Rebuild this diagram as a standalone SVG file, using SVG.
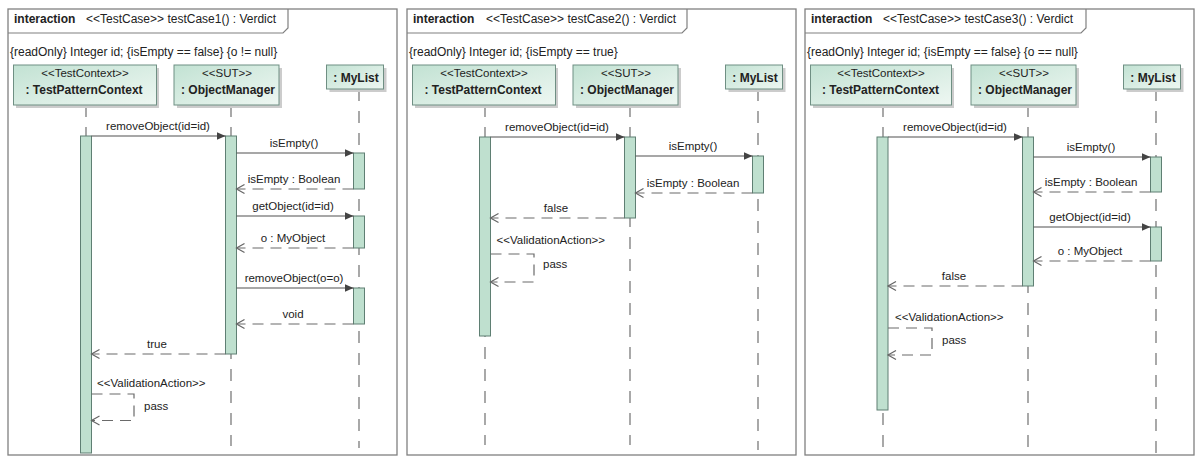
<svg xmlns="http://www.w3.org/2000/svg" width="1195" height="457" viewBox="0 0 1195 457">
<style>
.frame{fill:#ffffff;stroke:#808080;stroke-width:1.3}
.tab{fill:none;stroke:#808080;stroke-width:1.2}
.t{font-family:"Liberation Sans",Arial,sans-serif;font-size:11.5px;fill:#222222}
.h{font-size:12px}
.b{font-weight:bold}
.m{text-anchor:middle}
.head{fill:url(#hg);stroke:#6f8f83;stroke-width:1}
.shadow{fill:#cccccc}
.life{stroke:#707070;stroke-width:1.2;stroke-dasharray:12 10;fill:none}
.act{fill:#bfe0cf;stroke:#5f7f73;stroke-width:1}
.call{stroke:#505050;stroke-width:1.2;fill:none;marker-end:url(#filled)}
.ret{stroke:#6a6a6a;stroke-width:1.2;stroke-dasharray:11 7;fill:none;marker-end:url(#open)}
</style>
<defs>
<linearGradient id="hg" x1="0" y1="0" x2="1" y2="1">
<stop offset="0" stop-color="#c2e2d3"/>
<stop offset="1" stop-color="#eef7f2"/>
</linearGradient>
<marker id="filled" markerUnits="userSpaceOnUse" viewBox="0 0 9 8" refX="9" refY="4" markerWidth="9" markerHeight="8" orient="auto">
<path d="M0,0 L9,4 L0,8 z" fill="#444444"/>
</marker>
<marker id="open" markerUnits="userSpaceOnUse" viewBox="-1 -1 11 11" refX="8" refY="4.5" markerWidth="11" markerHeight="11" orient="auto">
<path d="M0,0 L8,4.5 L0,9" fill="none" stroke="#666666" stroke-width="1.2" stroke-dasharray="none"/>
</marker>
</defs>
<rect x="0" y="0" width="1195" height="457" fill="#ffffff"/>

<!-- Frame 1 -->
<g id="frame1">
<rect class="frame" x="8" y="9" width="389" height="446"/>
<path class="tab" d="M8,33 H283 L288,28 V9"/>
<text class="t h" x="14" y="23"><tspan class="b">interaction</tspan><tspan x="86">&lt;&lt;TestCase&gt;&gt; testCase1() : Verdict</tspan></text>
<text class="t h" x="10" y="56">{readOnly} Integer id; {isEmpty == false} {o != null}</text>
<g id="f1-tpc">
<line class="life" x1="86" y1="105" x2="86" y2="455"/>
<rect class="shadow" x="16" y="68" width="143" height="40"/>
<rect class="head" x="13.5" y="65" width="143" height="40"/>
<text class="t m" x="85" y="77">&lt;&lt;TestContext&gt;&gt;</text>
<text class="t b m h" x="84" y="94">: TestPatternContext</text>
<rect class="act" x="80.5" y="136" width="11" height="317"/>
</g>
<g id="f1-om">
<line class="life" x1="231" y1="105" x2="231" y2="446"/>
<rect class="shadow" x="177" y="68" width="105" height="40"/>
<rect class="head" x="174" y="65" width="105" height="40"/>
<text class="t m" x="227" y="77">&lt;&lt;SUT&gt;&gt;</text>
<text class="t b m h" x="228" y="94">: ObjectManager</text>
<rect class="act" x="225.5" y="136" width="11" height="218"/>
</g>
<g id="f1-mylist">
<line class="life" x1="359" y1="89" x2="359" y2="448"/>
<rect class="shadow" x="329.5" y="68" width="57" height="24"/>
<rect class="head" x="326.5" y="65" width="57" height="24"/>
<text class="t b m h" x="356" y="82">: MyList</text>
<rect class="act" x="353.5" y="153" width="11" height="36"/>
<rect class="act" x="353.5" y="216" width="11" height="32"/>
<rect class="act" x="353.5" y="288" width="11" height="36"/>
</g>
<g id="f1-connectors">
<path class="call" d="M91.5,136 H225.5"/>
<text class="t m" x="158" y="129.5">removeObject(id=id)</text>
<path class="call" d="M236.5,153 H353.5"/>
<text class="t m" x="294" y="147">isEmpty()</text>
<path class="ret" d="M353.5,189 H236.5"/>
<text class="t m" x="294" y="183">isEmpty : Boolean</text>
<path class="call" d="M236.5,216 H353.5"/>
<text class="t m" x="293" y="210">getObject(id=id)</text>
<path class="ret" d="M353.5,248 H236.5"/>
<text class="t m" x="293" y="242">o : MyObject</text>
<path class="call" d="M236.5,288 H353.5"/>
<text class="t m" x="294" y="282">removeObject(o=o)</text>
<path class="ret" d="M353.5,324 H236.5"/>
<text class="t m" x="293" y="318">void</text>
<path class="ret" d="M225.5,354 H91.5"/>
<text class="t m" x="157" y="348">true</text>
<text class="t" x="97" y="387">&lt;&lt;ValidationAction&gt;&gt;</text>
<path class="ret" d="M91.5,394 H134 V420.5 H91.5"/>
<text class="t" x="144" y="410">pass</text>
</g>
</g>

<!-- Frame 2 -->
<g id="frame2" transform="translate(399,0)">
<rect class="frame" x="8" y="9" width="389" height="446"/>
<path class="tab" d="M8,33 H283 L288,28 V9"/>
<text class="t h" x="14" y="23"><tspan class="b">interaction</tspan><tspan x="87">&lt;&lt;TestCase&gt;&gt; testCase2() : Verdict</tspan></text>
<text class="t h" x="10" y="56">{readOnly} Integer id; {isEmpty == true}</text>
<g id="f2-tpc">
<line class="life" x1="86" y1="105" x2="86" y2="445"/>
<rect class="shadow" x="16" y="68" width="143" height="40"/>
<rect class="head" x="13.5" y="65" width="143" height="40"/>
<text class="t m" x="85" y="77">&lt;&lt;TestContext&gt;&gt;</text>
<text class="t b m h" x="84" y="94">: TestPatternContext</text>
<rect class="act" x="80.5" y="137" width="11" height="199"/>
</g>
<g id="f2-om">
<line class="life" x1="231" y1="105" x2="231" y2="445"/>
<rect class="shadow" x="177" y="68" width="105" height="40"/>
<rect class="head" x="174" y="65" width="105" height="40"/>
<text class="t m" x="227" y="77">&lt;&lt;SUT&gt;&gt;</text>
<text class="t b m h" x="228" y="94">: ObjectManager</text>
<rect class="act" x="225.5" y="137" width="11" height="81"/>
</g>
<g id="f2-mylist">
<line class="life" x1="359" y1="89" x2="359" y2="450"/>
<rect class="shadow" x="329.5" y="68" width="57" height="24"/>
<rect class="head" x="326.5" y="65" width="57" height="24"/>
<text class="t b m h" x="356" y="82">: MyList</text>
<rect class="act" x="353.5" y="156" width="11" height="37"/>
</g>
<g id="f2-connectors">
<path class="call" d="M91.5,137 H225.5"/>
<text class="t m" x="158" y="130.5">removeObject(id=id)</text>
<path class="call" d="M236.5,156 H353.5"/>
<text class="t m" x="294" y="150">isEmpty()</text>
<path class="ret" d="M353.5,193 H236.5"/>
<text class="t m" x="294" y="187">isEmpty : Boolean</text>
<path class="ret" d="M225.5,218 H91.5"/>
<text class="t m" x="157" y="211.5">false</text>
<text class="t" x="97.5" y="243.5">&lt;&lt;ValidationAction&gt;&gt;</text>
<path class="ret" d="M91.5,254 H135 V282 H91.5"/>
<text class="t" x="144" y="268">pass</text>
</g>
</g>

<!-- Frame 3 -->
<g id="frame3" transform="translate(797,0)">
<rect class="frame" x="8" y="9" width="389" height="446"/>
<path class="tab" d="M8,33 H284 L289,28 V9"/>
<text class="t h" x="14" y="23"><tspan class="b">interaction</tspan><tspan x="86">&lt;&lt;TestCase&gt;&gt; testCase3() : Verdict</tspan></text>
<text class="t h" x="10" y="56">{readOnly} Integer id; {isEmpty == false} {o == null}</text>
<g id="f3-tpc">
<line class="life" x1="86" y1="105" x2="86" y2="457"/>
<rect class="shadow" x="16" y="68" width="141" height="40"/>
<rect class="head" x="13.5" y="65" width="141" height="40"/>
<text class="t m" x="84" y="77">&lt;&lt;TestContext&gt;&gt;</text>
<text class="t b m h" x="83.5" y="94">: TestPatternContext</text>
<rect class="act" x="80" y="137" width="11" height="273"/>
</g>
<g id="f3-om">
<line class="life" x1="231" y1="105" x2="231" y2="457"/>
<rect class="shadow" x="177" y="68" width="105" height="40"/>
<rect class="head" x="174" y="65" width="105" height="40"/>
<text class="t m" x="227" y="77">&lt;&lt;SUT&gt;&gt;</text>
<text class="t b m h" x="228" y="94">: ObjectManager</text>
<rect class="act" x="225.5" y="137" width="11" height="149"/>
</g>
<g id="f3-mylist">
<line class="life" x1="359" y1="89" x2="359" y2="457"/>
<rect class="shadow" x="329.5" y="68" width="57" height="24"/>
<rect class="head" x="326.5" y="65" width="57" height="24"/>
<text class="t b m h" x="356" y="82">: MyList</text>
<rect class="act" x="353.5" y="157" width="11" height="35"/>
<rect class="act" x="353.5" y="227" width="11" height="34"/>
</g>
<g id="f3-connectors">
<path class="call" d="M91,137 H225.5"/>
<text class="t m" x="158" y="130.5">removeObject(id=id)</text>
<path class="call" d="M236.5,157 H353.5"/>
<text class="t m" x="294" y="151">isEmpty()</text>
<path class="ret" d="M353.5,192 H236.5"/>
<text class="t m" x="294" y="186">isEmpty : Boolean</text>
<path class="call" d="M236.5,227 H353.5"/>
<text class="t m" x="293" y="221">getObject(id=id)</text>
<path class="ret" d="M353.5,261 H236.5"/>
<text class="t m" x="293" y="254.5">o : MyObject</text>
<path class="ret" d="M225.5,286 H91"/>
<text class="t m" x="157" y="280">false</text>
<text class="t" x="98" y="320.5">&lt;&lt;ValidationAction&gt;&gt;</text>
<path class="ret" d="M91,328 H135 V355 H91"/>
<text class="t" x="145" y="344">pass</text>
</g>
</g>
</svg>
